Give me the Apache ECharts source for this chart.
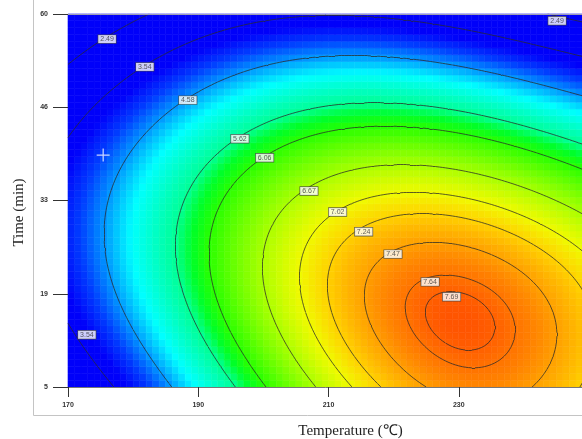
<!DOCTYPE html>
<html><head><meta charset="utf-8">
<script src="https://cdn.jsdelivr.net/npm/echarts@6/dist/echarts.min.js"></script>
<style>html,body{margin:0;padding:0;background:#fff}#c{width:582px;height:439px}</style>
</head><body><div id="c"></div>
<script>
// ---- axes ----
const tempRange = [170, 250];
const timeRange = [5, 60];
const tempTicks = [170, 190, 210, 230];
const tempTickLabels = ['170', '190', '210', '230'];
const timeTicks = [5, 18.75, 32.5, 46.25, 60];
const timeTickLabels = ['5', '19', '33', '46', '60'];

// ---- contour levels and points [temperature, time] ----
const contourLevels = [2.49, 3.54, 4.58, 5.62, 6.06, 6.67, 7.02, 7.24, 7.47, 7.64, 7.69];
const contour249 = [[170.0,52.5],[176.0,56.5],[182.1,60.0],[240.9,60.0],[248.9,57.9]];
const contour354 = [[170.0,42.2],[171.8,44.4],[181.8,52.2],[188.3,55.9],[194.4,57.6],[205.6,59.3],[215.9,59.6],[231.7,58.4],[248.9,55.9],[170.0,14.5],[171.8,11.2],[177.5,5.0]];
const contour458 = [[183.1,44.4],[188.4,47.3],[181.5,41.0],[178.0,35.1],[176.5,27.7],[176.8,17.8],[181.1,11.2],[186.1,5.0],[199.5,52.8],[215.9,53.5],[233.2,51.0],[248.9,46.3]];
const contour562 = [[248.9,40.7],[240.9,44.4],[218.4,46.6],[199.5,44.4],[196.4,41.6],[191.3,37.4],[187.7,32.6],[186.4,26.7],[186.7,20.3],[188.0,17.8],[191.8,11.2],[196.1,5.0]];
const contour606 = [[248.9,37.0],[238.9,40.0],[221.0,43.2],[202.1,40.0],[200.2,38.8],[196.4,37.4],[193.3,32.6],[191.8,26.7],[192.1,20.8],[192.9,17.8],[196.4,11.2],[201.5,5.0]];
const contour667 = [[248.9,30.2],[236.3,35.5],[226.0,37.7],[215.9,37.4],[210.7,35.5],[207.0,33.9],[204.1,32.6],[200.5,26.7],[199.8,20.8],[201.0,14.9],[206.7,5.0]];
const contour702 = [[248.9,25.2],[236.3,32.6],[226.0,34.8],[218.4,34.1],[211.4,30.8],[207.6,28.2],[205.6,22.7],[205.9,17.8],[211.3,5.0]];
const contour724 = [[248.9,20.0],[236.3,28.2],[226.0,30.7],[218.4,29.9],[215.4,27.9],[211.8,22.3],[213.6,11.9],[215.9,5.0]];
const contour747 = [[216.4,19.8],[219.9,24.6],[227.1,26.2],[231.2,25.6],[241.4,23.7],[246.6,11.9],[238.3,5.6],[222.0,7.5]];
const contour764 = [[223.3,16.8],[225.1,13.4],[228.6,11.5],[234.8,10.5],[238.9,13.0],[237.4,18.3],[232.2,20.8],[227.1,21.2]];
const contour769 = [[227.1,16.4],[230.6,18.6],[235.5,15.2],[232.2,13.0]];
const contourPoints = [contour249, contour354, contour458, contour562, contour606, contour667, contour702, contour724, contour747, contour764, contour769];

// ---- contour value labels ----
const labelTexts = ['2.49','2.49','3.54','3.54','4.58','5.62','6.06','6.67','7.02','7.24','7.47','7.64','7.69'];
const labelPositions = [[176.0,56.3],[245.1,59.0],[181.8,52.2],[172.9,12.7],[188.4,47.3],[196.4,41.6],[200.2,38.8],[207.0,33.9],[211.4,30.8],[215.4,27.9],[219.9,24.6],[225.6,20.5],[228.9,18.3]];

// ---- design point marker ----
const crossPoint = [175.4, 39.2];

// ---- colour scale (style) ----
const colorStops = [
  [3.8,[0,0,250]],[4.2,[0,60,255]],[4.58,[0,150,255]],[5.0,[0,255,255]],[5.62,[0,255,150]],
  [5.85,[0,255,40]],[6.06,[40,255,0]],[6.67,[170,255,0]],[7.02,[240,250,0]],[7.24,[255,210,0]],
  [7.47,[255,160,0]],[7.64,[255,115,0]],[7.72,[255,85,0]]
];

// ---- least-squares response surface through the read contour points ----
const DEG = 4;
function basis(T, t) {
  const u = (T - 210) / 40, v = (t - 32.5) / 27.5;
  const r = [];
  for (let d = 0; d <= DEG; d++) for (let i = 0; i <= d; i++) r.push(Math.pow(u, d - i) * Math.pow(v, i));
  return r;
}
function fitSurface() {
  const n = basis(0, 0).length;
  const A = Array.from({length: n}, () => new Array(n).fill(0));
  const b = new Array(n).fill(0);
  contourPoints.forEach((pts, k) => {
    const L = contourLevels[k];
    pts.forEach(p => {
      const f = basis(p[0], p[1]);
      for (let i = 0; i < n; i++) { b[i] += f[i] * L; for (let j = 0; j < n; j++) A[i][j] += f[i] * f[j]; }
    });
  });
  for (let i = 0; i < n; i++) A[i][i] += 1e-5;
  for (let c = 0; c < n; c++) {
    let piv = c;
    for (let r = c + 1; r < n; r++) if (Math.abs(A[r][c]) > Math.abs(A[piv][c])) piv = r;
    [A[c], A[piv]] = [A[piv], A[c]]; [b[c], b[piv]] = [b[piv], b[c]];
    for (let r = 0; r < n; r++) {
      if (r === c) continue;
      const m = A[r][c] / A[c][c];
      for (let j = c; j < n; j++) A[r][j] -= m * A[c][j];
      b[r] -= m * b[c];
    }
  }
  return b.map((v, i) => v / A[i][i]);
}
const coef = fitSurface();
function surf(T, t) { const f = basis(T, t); let s = 0; for (let i = 0; i < f.length; i++) s += coef[i] * f[i]; return s; }

function colorOf(v) {
  if (v <= colorStops[0][0]) return 'rgb(' + colorStops[0][1].join(',') + ')';
  for (let i = 1; i < colorStops.length; i++) {
    if (v <= colorStops[i][0]) {
      const a = colorStops[i-1], c = colorStops[i];
      const w = (v - a[0]) / (c[0] - a[0]);
      return 'rgb(' + a[1].map((x, k) => Math.round(x + (c[1][k] - x) * w)).join(',') + ')';
    }
  }
  return 'rgb(' + colorStops[colorStops.length-1][1].join(',') + ')';
}

// surface cells (1 degree x 1 min)
const cells = [];
for (let T = tempRange[0]; T < tempRange[1] - 1e-9; T += 1) {
  for (let t = timeRange[0]; t < timeRange[1] - 1e-9; t += 1) {
    const T1 = Math.min(T + 1, tempRange[1]), t1 = Math.min(t + 1, timeRange[1]);
    cells.push([T, t, T1, t1, surf((T + T1) / 2, (t + t1) / 2)]);
  }
}
// contour segments (marching squares)
const gT = [], gt = [];
for (let T = tempRange[0]; T <= tempRange[1] + 1e-9; T += 0.5) gT.push(T);
for (let t = timeRange[0]; t <= timeRange[1] + 1e-9; t += 0.5) gt.push(t);
const G = gt.map(t => gT.map(T => surf(T, t)));
const segs = [];
contourLevels.forEach(L => {
  for (let j = 0; j < gt.length - 1; j++) for (let i = 0; i < gT.length - 1; i++) {
    const cs = [[gT[i], gt[j], G[j][i]], [gT[i+1], gt[j], G[j][i+1]], [gT[i+1], gt[j+1], G[j+1][i+1]], [gT[i], gt[j+1], G[j+1][i]]];
    const pts = [];
    for (let e = 0; e < 4; e++) {
      const p = cs[e], q = cs[(e + 1) % 4];
      if ((p[2] < L) !== (q[2] < L)) { const w = (L - p[2]) / (q[2] - p[2]); pts.push([p[0] + (q[0] - p[0]) * w, p[1] + (q[1] - p[1]) * w]); }
    }
    if (pts.length >= 2) segs.push({coords: [pts[0], pts[1]]});
    if (pts.length === 4) segs.push({coords: [pts[2], pts[3]]});
  }
});

const chart = echarts.init(document.getElementById('c'));
chart.setOption({
  animation: false,
  backgroundColor: '#fff',
  grid: {left: 68, top: 14, right: -7, bottom: 52, show: false, outerBoundsMode: 'none', containLabel: false},
  xAxis: [{
    type: 'value', min: tempRange[0], max: tempRange[1], z: 5,
    name: 'Temperature (℃)', nameLocation: 'middle', nameGap: 37,
    nameTextStyle: {fontFamily: 'Liberation Serif', fontSize: 15, color: '#222', padding: [0, 0, 0, 44]},
    axisLine: {show: true, lineStyle: {color: '#777', width: 1}},
    axisTick: {show: true, length: 10, customValues: tempTicks, lineStyle: {color: '#333'}},
    axisLabel: {customValues: tempTicks, margin: 15, fontSize: 7, fontWeight: 'bold', color: '#333', fontFamily: 'Liberation Sans',
      formatter: v => tempTickLabels[tempTicks.indexOf(v)] ?? ''},
    splitLine: {show: false}
  }, {
    type: 'value', position: 'top', min: tempRange[0], max: tempRange[1], z: 5,
    axisLine: {show: true, lineStyle: {color: '#9c9cb4', width: 1}},
    axisTick: {show: false}, axisLabel: {show: false}, splitLine: {show: false}
  }],
  yAxis: [{
    type: 'value', min: timeRange[0], max: timeRange[1], z: 5,
    name: 'Time (min)', nameLocation: 'middle', nameGap: 41, nameRotate: 90,
    nameTextStyle: {fontFamily: 'Liberation Serif', fontSize: 15, color: '#222', padding: [0, 24, 0, 0]},
    axisLine: {show: false},
    axisTick: {show: true, length: 15, customValues: timeTicks, lineStyle: {color: '#333'}},
    axisLabel: {customValues: timeTicks, margin: 20, fontSize: 7, fontWeight: 'bold', color: '#333', fontFamily: 'Liberation Sans',
      formatter: v => timeTickLabels[timeTicks.indexOf(v)] ?? ''},
    splitLine: {show: false}
  }],
  graphic: [{
    type: 'polyline', silent: true, z: 0,
    shape: {points: [[33.5, 0], [33.5, 415.5], [582, 415.5]]},
    style: {stroke: '#c4c4c4', lineWidth: 1, fill: null}
  }],
  series: [{
    type: 'custom', z: 1, silent: true, encode: {x: [0, 2], y: [1, 3]}, data: cells,
    renderItem: (params, api) => {
      const p0 = api.coord([api.value(0), api.value(3)]);
      const p1 = api.coord([api.value(2), api.value(1)]);
      const col = colorOf(api.value(4));
      return {type: 'rect', shape: {x: p0[0], y: p0[1], width: p1[0] - p0[0], height: p1[1] - p0[1]}, style: {fill: col, stroke: col, lineWidth: 0.6}};
    }
  }, {
    type: 'lines', coordinateSystem: 'cartesian2d', z: 3, silent: true, polyline: false,
    lineStyle: {color: '#2a2a2a', width: 0.9, opacity: 0.85}, data: segs
  }, {
    type: 'scatter', z: 4, silent: true, symbolSize: 0,
    data: labelPositions.map((p, i) => ({value: p, name: labelTexts[i]})),
    label: {show: true, position: 'inside', formatter: p => p.name, fontSize: 7, color: '#333',
      fontFamily: 'Liberation Sans', backgroundColor: '#fff', borderColor: '#444', borderWidth: 0.7, padding: [1, 2, 0, 2]}
  }, {
    type: 'scatter', z: 4, silent: true, symbol: 'path://M0,7 L14,7 M7,0 L7,14', symbolSize: 13,
    itemStyle: {color: 'none', borderColor: '#fff', borderWidth: 1.2}, data: [crossPoint]
  }]
});
</script></body></html>
